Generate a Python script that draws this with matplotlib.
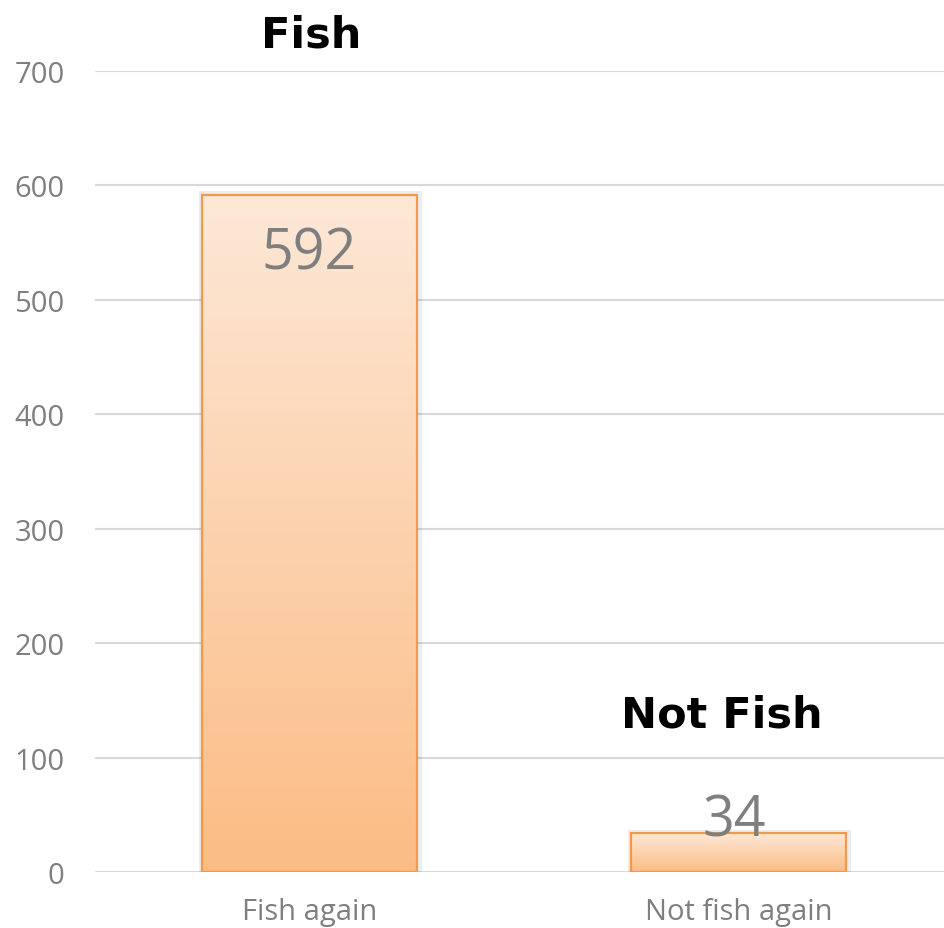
import numpy as np
import matplotlib.pyplot as plt
from matplotlib.colors import LinearSegmentedColormap
from matplotlib.patches import Rectangle

# Data
categories = ['Fish again', 'Not fish again']
counts = [592, 34]
bar_titles = ['Fish', 'Not Fish']
yticks = [0, 100, 200, 300, 400, 500, 600, 700]

grey = '#7F7F7F'
grad = LinearSegmentedColormap.from_list('peach', ['#FBBC84', '#FDE8D7'])

fig = plt.figure(figsize=(9.44, 9.29), dpi=100)
ax = fig.add_axes([0.1006, 0.0603, 0.909, 0.8622])

x = np.arange(len(categories))
width = 0.5
bars = ax.bar(x, counts, width=width, color='none', edgecolor='#F39A4A',
              linewidth=1.6, zorder=3)

# gradient fill + soft shadow for each bar
for rect in bars:
    x0, w, h = rect.get_x(), rect.get_width(), rect.get_height()
    shadow = Rectangle((x0 - 0.008, 0), w + 0.02, h + 3, facecolor='#000000',
                       alpha=0.07, edgecolor='none', zorder=2)
    ax.add_patch(shadow)
    img = ax.imshow(np.linspace(0, 1, 256).reshape(-1, 1), cmap=grad,
                    extent=[x0, x0 + w, 0, h], origin='lower', aspect='auto',
                    zorder=2.5)
    img.set_clip_path(rect)

# value labels
for xi, v in zip(x, counts):
    if v > 100:
        ax.annotate(str(v), (xi, v), xytext=(0, -22), textcoords='offset points',
                    ha='center', va='top', fontsize=40, color=grey,
                    family='Open Sans', zorder=4)
    else:
        ax.annotate(str(v), (xi - 0.01, v), xytext=(0, -12), textcoords='offset points',
                    ha='center', va='bottom', fontsize=40, color=grey,
                    family='Open Sans', zorder=4)

# handwritten-style titles above bars
ax.text(x[0] + 0.005, 700 + 32, bar_titles[0], ha='center', va='center',
        fontsize=31, fontweight='bold', family='DejaVu Sans',
        color='black', clip_on=False)
ax.text(x[1] - 0.04, counts[1] + 104, bar_titles[1], ha='center', va='center',
        fontsize=31, fontweight='bold', family='DejaVu Sans',
        color='black')

ax.set_xlim(-0.5, 1.5)
ax.set_ylim(0, 700)
ax.set_yticks(yticks)
ax.set_xticks(x)
ax.set_xticklabels(categories)
ax.grid(axis='y', color='#D9D9D9', linewidth=1.5, zorder=0)
ax.set_axisbelow(True)
for s in ax.spines.values():
    s.set_visible(False)
ax.tick_params(length=0, labelsize=21, labelcolor=grey, pad=22)
ax.tick_params(axis='x', pad=18)
for lbl in ax.get_xticklabels() + ax.get_yticklabels():
    lbl.set_family('Open Sans')

plt.savefig('out.png', dpi=100)
